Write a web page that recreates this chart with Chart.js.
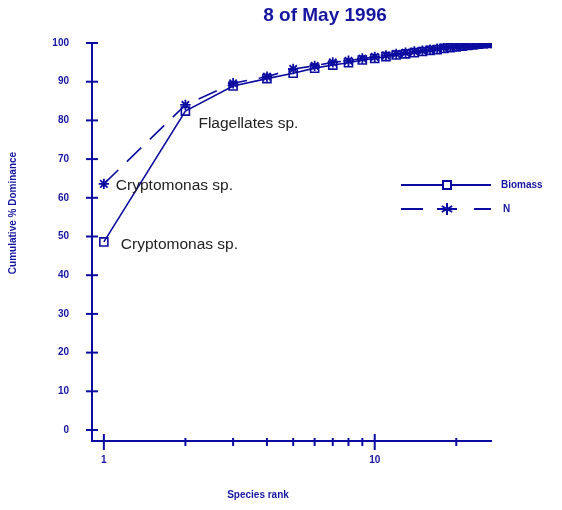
<!DOCTYPE html>
<html lang="en">

<head>
    <meta charset="UTF-8">
    <title>8 of May 1996</title>
    <script src="https://cdn.jsdelivr.net/npm/chart.js"></script>
    <style>
        * {
            margin: 0;
            padding: 0;
            box-sizing: border-box;
        }

        body {
            background-color: #fff;
            width: 562px;
            height: 510px;
            overflow: hidden;
        }

        .container {
            position: relative;
            width: 562px;
            height: 510px;
        }
    </style>
</head>

<body>
    <div class="container">
        <canvas id="kdom-chart" width="562" height="510"></canvas>
    </div>

    <script>
        // species rank (log axis)
        var ranks = [1, 2, 3, 4, 5, 6, 7, 8, 9, 10, 11, 12, 13, 14, 15, 16, 17, 18, 19, 20, 21, 22, 23, 24, 25, 26, 27];
        // cumulative % dominance, solid line with squares
        var seriesA = [48.6, 82.4, 88.9, 90.8, 92.2, 93.5, 94.3, 94.9, 95.6, 96.0, 96.5, 96.9, 97.2, 97.5, 97.8, 98.1, 98.3, 98.6, 98.8, 99.0, 99.2, 99.4, 99.5, 99.7, 99.8, 99.9, 100];
        // cumulative % dominance, dashed line with asterisks
        var seriesB = [63.6, 84.0, 89.6, 91.3, 93.3, 94.1, 95.0, 95.4, 96.0, 96.4, 96.8, 97.2, 97.5, 97.8, 98.0, 98.3, 98.5, 98.8, 99.0, 99.2, 99.35, 99.5, 99.6, 99.7, 99.8, 99.9, 100];
        var seriesNames = ['Biomass', 'N'];
        var yTicks = [0, 10, 20, 30, 40, 50, 60, 70, 80, 90, 100];
        var xTicks = [1, 2, 3, 4, 5, 6, 7, 8, 9, 10, 20];
        var xTickLabels = { 1: '1', 10: '10' };
        // species named on the plot: [series, rank index, name]
        var notes = [
            [0, 1, 'Flagellates sp.'],
            [1, 0, 'Cryptomonas sp.'],
            [0, 0, 'Cryptomonas sp.']
        ];

        var blue = '#0c0ca0';
        var ink = '#1616a0';

        function toPoints(vals) {
            return vals.map(function (v, i) { return { x: ranks[i], y: v }; });
        }

        var axesPlugin = {
            id: 'axesPlugin',
            afterDraw: function (chart) {
                var ctx = chart.ctx;
                var xs = chart.scales.x, ys = chart.scales.y;
                var area = chart.chartArea;
                ctx.save();
                ctx.strokeStyle = blue;
                ctx.fillStyle = ink;
                ctx.lineWidth = 2;

                // axes lines
                ctx.beginPath();
                ctx.moveTo(area.left, area.top);
                ctx.lineTo(area.left, area.bottom);
                ctx.lineTo(area.right, area.bottom);
                ctx.stroke();

                ctx.font = 'bold 10px Arial';
                ctx.textAlign = 'right';
                ctx.textBaseline = 'middle';
                yTicks.forEach(function (v) {
                    var py = ys.getPixelForValue(v);
                    ctx.beginPath();
                    ctx.moveTo(area.left - 6, py);
                    ctx.lineTo(area.left + 6, py);
                    ctx.stroke();
                    ctx.fillText(String(v), area.left - 23, py);
                });

                ctx.textAlign = 'center';
                ctx.textBaseline = 'middle';
                xTicks.forEach(function (v) {
                    var px = xs.getPixelForValue(v);
                    var len = (v === 1 || v === 10) ? 9 : 5;
                    ctx.beginPath();
                    ctx.moveTo(px, area.bottom - (len - 2));
                    ctx.lineTo(px, area.bottom + len);
                    ctx.stroke();
                    if (xTickLabels[v]) {
                        ctx.fillText(xTickLabels[v], px, area.bottom + 19);
                    }
                });

                // axis titles
                ctx.font = 'bold 10px Arial';
                ctx.fillText('Species rank', 258, 495);
                ctx.save();
                ctx.translate(13, 213);
                ctx.rotate(-Math.PI / 2);
                ctx.fillText('Cumulative % Dominance', 0, 0);
                ctx.restore();

                // title
                ctx.font = 'bold 19px Arial';
                ctx.fillText('8 of May 1996', 325, 16);

                // species notes
                ctx.font = '15.5px Arial';
                ctx.fillStyle = '#222';
                ctx.textAlign = 'left';
                var offs = [[13, 13], [12, 2], [17, 3]];
                notes.forEach(function (n, i) {
                    var vals = n[0] === 0 ? seriesA : seriesB;
                    var px = xs.getPixelForValue(ranks[n[1]]);
                    var py = ys.getPixelForValue(vals[n[1]]);
                    ctx.fillText(n[2], px + offs[i][0], py + offs[i][1]);
                });

                // legend
                ctx.strokeStyle = blue;
                ctx.lineWidth = 2;
                var lx0 = 401, lx1 = 491, lm = 447;
                var rows = [185, 209];
                ctx.beginPath();
                ctx.moveTo(lx0, rows[0]);
                ctx.lineTo(lx1, rows[0]);
                ctx.stroke();
                ctx.fillStyle = '#fff';
                ctx.fillRect(lm - 4, rows[0] - 4, 8, 8);
                ctx.strokeRect(lm - 4, rows[0] - 4, 8, 8);
                ctx.beginPath();
                ctx.moveTo(lx0, rows[1]); ctx.lineTo(lx0 + 22, rows[1]);
                ctx.moveTo(lm - 10, rows[1]); ctx.lineTo(lm + 10, rows[1]);
                ctx.moveTo(lx1 - 17, rows[1]); ctx.lineTo(lx1, rows[1]);
                for (var k = 0; k < 3; k++) {
                    var a = k * Math.PI / 3 + Math.PI / 2;
                    ctx.moveTo(lm - 6 * Math.cos(a), rows[1] - 6 * Math.sin(a));
                    ctx.lineTo(lm + 6 * Math.cos(a), rows[1] + 6 * Math.sin(a));
                }
                ctx.stroke();
                ctx.fillStyle = ink;
                ctx.font = 'bold 10px Arial';
                ctx.textBaseline = 'middle';
                ctx.fillText(seriesNames[0], 501, rows[0]);
                ctx.fillText(seriesNames[1], 503, rows[1]);

                ctx.restore();
            }
        };

        var ctx = document.getElementById('kdom-chart').getContext('2d');
        var myChart = new Chart(ctx, {
            type: 'line',
            data: {
                datasets: [{
                    label: seriesNames[0],
                    data: toPoints(seriesA),
                    borderColor: blue,
                    borderWidth: 1.6,
                    pointStyle: 'rect',
                    pointRadius: 5.7,
                    pointBorderWidth: 1.6,
                    pointBackgroundColor: 'rgba(255,255,255,0)',
                    pointBorderColor: blue,
                    tension: 0
                }, {
                    label: seriesNames[1],
                    data: toPoints(seriesB),
                    borderColor: blue,
                    borderWidth: 1.6,
                    borderDash: [20, 12],
                    pointStyle: 'star',
                    pointRadius: 5.2,
                    pointBorderWidth: 1.8,
                    pointBorderColor: blue,
                    tension: 0
                }]
            },
            options: {
                responsive: false,
                animation: false,
                layout: {
                    padding: { left: 84, right: 70, top: 43, bottom: 61 }
                },
                plugins: {
                    legend: { display: false },
                    tooltip: { enabled: false }
                },
                scales: {
                    x: {
                        type: 'logarithmic',
                        min: 0.904,
                        max: 27.1,
                        grid: { display: false },
                        border: { display: false },
                        ticks: { display: false }
                    },
                    y: {
                        type: 'linear',
                        min: -2.84,
                        max: 100,
                        grid: { display: false },
                        border: { display: false },
                        ticks: { display: false }
                    }
                }
            },
            plugins: [axesPlugin]
        });
    </script>
</body>

</html>
